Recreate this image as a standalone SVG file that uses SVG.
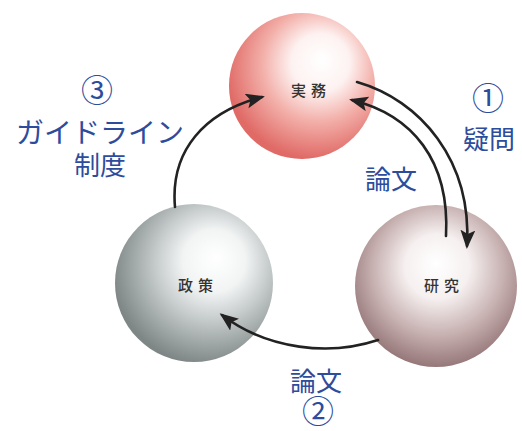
<svg xmlns="http://www.w3.org/2000/svg" width="522" height="431" viewBox="0 0 522 431">
<style>
.node-label{font-family:"Noto Sans CJK JP","Noto Sans",sans-serif;font-size:15px;font-weight:500;fill:#333;letter-spacing:5px;text-anchor:middle}
.lbl{font-family:"Noto Sans CJK JP","Noto Sans",sans-serif;fill:#2d4c9c;text-anchor:middle}
.circ{font-family:"Noto Sans CJK JP","Noto Sans",sans-serif;fill:#2d4c9c;text-anchor:middle;font-size:32px}
.conn{fill:none;stroke:#222;stroke-width:2.6;stroke-linecap:round}
</style>
<defs>
<radialGradient id="gRed" cx="0.6" cy="0.38" r="0.62" fx="0.64" fy="0.32">
<stop offset="0" stop-color="#ffffff"/>
<stop offset="0.32" stop-color="#fdf2f1"/>
<stop offset="0.62" stop-color="#f3b0aa"/>
<stop offset="1" stop-color="#e06a66"/>
</radialGradient>
<radialGradient id="gGray" cx="0.6" cy="0.4" r="0.62" fx="0.64" fy="0.34">
<stop offset="0" stop-color="#ffffff"/>
<stop offset="0.32" stop-color="#f2f4f4"/>
<stop offset="0.66" stop-color="#b8bebe"/>
<stop offset="1" stop-color="#7e8686"/>
</radialGradient>
<radialGradient id="gMauve" cx="0.52" cy="0.42" r="0.62" fx="0.5" fy="0.36">
<stop offset="0" stop-color="#ffffff"/>
<stop offset="0.32" stop-color="#f6f0f0"/>
<stop offset="0.66" stop-color="#c6afaf"/>
<stop offset="1" stop-color="#8c6c6e"/>
</radialGradient>
<marker id="ah" markerUnits="userSpaceOnUse" markerWidth="20" markerHeight="16" refX="16" refY="7.5" orient="auto">
<path d="M0,0 L19,7.5 L0,15 L4,7.5 z" fill="#222"/>
</marker>
</defs>
<g id="jitsumu">
<circle cx="302" cy="86" r="73" fill="url(#gRed)"/>
<text class="node-label" x="311" y="96">実務</text>
</g>
<g id="seisaku">
<circle cx="194" cy="283" r="79" fill="url(#gGray)"/>
<text class="node-label" x="198" y="291">政策</text>
</g>
<g id="kenkyu">
<circle cx="436" cy="286" r="81" fill="url(#gMauve)"/>
<text class="node-label" x="444" y="291">研究</text>
</g>
<g id="connectors">
<path class="conn" d="M175 207 C170 150 205 112 262 97" marker-end="url(#ah)"/>
<path class="conn" d="M357 82 C420 100 472 160 467 246" marker-end="url(#ah)"/>
<path class="conn" d="M446 236 C450 160 412 115 352 100" marker-end="url(#ah)"/>
<path class="conn" d="M378 340 C330 356 268 350 222 315" marker-end="url(#ah)"/>
</g>
<g id="labels">
<text class="circ" x="97" y="102">③</text>
<text class="lbl" x="100" y="143" font-size="28">ガイドライン</text>
<text class="lbl" x="100" y="175" font-size="26">制度</text>
<text class="circ" x="488" y="110">①</text>
<text class="lbl" x="489" y="149" font-size="26">疑問</text>
<text class="lbl" x="391" y="189" font-size="26">論文</text>
<text class="lbl" x="316" y="391" font-size="26">論文</text>
<text class="circ" x="318" y="423">②</text>
</g>
</svg>
